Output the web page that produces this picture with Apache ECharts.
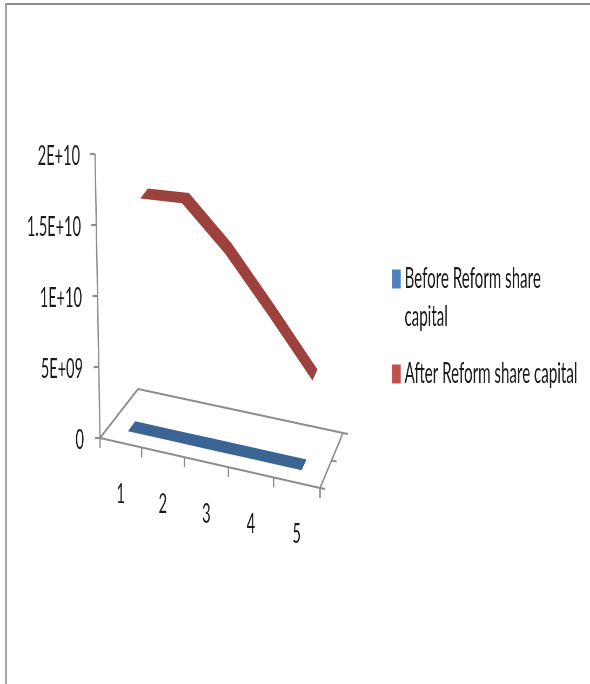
<!DOCTYPE html>
<html>
<head>
<meta charset="utf-8">
<style>
  html, body { margin: 0; padding: 0; background: #fff; overflow: hidden; }
  /* the reference is a squeezed picture, so draw wide and squeeze it the same way */
  #main { width: 1092px; height: 684px; transform: scaleX(0.5403); transform-origin: 0 0; }
</style>
<script src="https://cdn.jsdelivr.net/npm/echarts@6/dist/echarts.min.js"></script>
</head>
<body>
<div id="main"></div>
<script>
var categories = ['1', '2', '3', '4', '5'];
var beforeValues = [1.1e8, 1.1e8, 1.1e8, 1.1e8, 1.1e8];
var afterValues = [1.51e10, 1.54e10, 1.25e10, 8.8e9, 4.9e9];
var yTickLabels = ['0', '5E+09', '1E+10', '1.5E+10', '2E+10'];
var seriesNames = ['Before Reform share capital', 'After Reform share capital'];

var SX = 1092 / 590;
var gridLeft = 100, gridWidth = 220, gridTop = 154, gridHeight = 284;
var font = 'Lato, "Open Sans", sans-serif';
var axisGrey = '#8c8c8c';
var labelColor = '#1a1a1a';

// 3D look: shears a flat grid point (category pos, value) onto the tilted floor, d is the depth 0..1
function project(api, pos, value, d) {
    var base = api.coord([pos, 0]);
    var top = api.coord([pos, value]);
    var u = (base[0] / SX - gridLeft) / gridWidth;
    var x = gridLeft + gridWidth * (0.932 * u + 0.068 * u * u);
    var y = base[1] + 0.2273 * (x - gridLeft);
    x += (38 - 15 * u) * d;
    y += (-49 - 6 * u) * d;
    var h = base[1] - top[1];
    x += h / gridHeight * (x - 210) * 0.045;
    return [x * SX, y - h];
}

function floorItem(params, api) {
    var pos = api.value(0);
    var items = [];
    var a = project(api, pos, 0, 0);
    var line = function (p, q, w) {
        return { type: 'line', shape: { x1: p[0], y1: p[1], x2: q[0], y2: q[1] }, style: { stroke: axisGrey, lineWidth: w || 2.2 } };
    };
    items.push(line(a, [a[0], a[1] + 10], 2.5));
    if (params.dataIndex === 0) {
        var p00 = project(api, 0, 0, 0), p50 = project(api, 5, 0, 0);
        var p01 = project(api, 0, 0, 1), p51 = project(api, 5, 0, 1);
        var pm = project(api, 5, 0, 0.5);
        var vTop = project(api, 0, 2e10, 0);
        items.push(line(p00, p50), line(p00, p01, 2.5), line(p01, p51), line(p50, p51, 2.5));
        items.push(line(p00, [p00[0], p00[1] + 10], 2.5));
        items.push(line(p50, [p50[0], p50[1] + 10], 2.5));
        items.push(line(p50, [p50[0] + 5 * SX, p50[1] + 1]));
        items.push(line(pm, [pm[0] + 5 * SX, pm[1] + 1]));
        items.push(line(p51, [p51[0] + 5 * SX, p51[1] + 1]));
        items.push(line(p00, vTop, 2.5));
        for (var i = 0; i < yTickLabels.length; i++) {
            var t = project(api, 0, i * 5e9, 0);
            items.push(line(t, [t[0] - 5 * SX, t[1]]));
        }
    }
    var lp = project(api, pos - 0.5, 0, 0);
    items.push({
        type: 'text',
        style: {
            x: lp[0], y: lp[1] + 52, text: categories[params.dataIndex],
            fill: labelColor, font: '27px ' + font, align: 'center', verticalAlign: 'middle'
        }
    });
    return { type: 'group', children: items };
}

function ribbonItem(values, d0, d1, color) {
    return function (params, api) {
        if (params.dataIndex !== 0) return null;
        var pts = [];
        var i;
        for (i = 0; i < values.length; i++) pts.push(project(api, i + 0.5, values[i], d0));
        for (i = values.length - 1; i >= 0; i--) pts.push(project(api, i + 0.5, values[i], d1));
        return { type: 'polygon', shape: { points: pts }, style: { fill: color } };
    };
}

function toData(values) {
    return values.map(function (v, i) { return [i + 0.5, v]; });
}

function tickRich(right) {
    return { fontFamily: font, fontSize: 27, color: labelColor, padding: [5, right * SX, 0, 0] };
}

var chart = echarts.init(document.getElementById('main'));
chart.setOption({
    animation: false,
    backgroundColor: '#fff',
    grid: { left: gridLeft * SX, width: gridWidth * SX, top: gridTop, height: gridHeight },
    xAxis: { type: 'value', min: 0, max: 5, show: false },
    yAxis: {
        type: 'value', min: 0, max: 2e10, interval: 5e9,
        axisLine: { show: false }, axisTick: { show: false }, splitLine: { show: false },
        axisLabel: {
            margin: 16 * SX,
            formatter: function (v, i) { return '{l' + i + '|' + yTickLabels[i] + '}'; },
            rich: { l0: tickRich(0), l1: tickRich(1), l2: tickRich(2), l3: tickRich(3), l4: tickRich(4) }
        }
    },
    legend: {
        orient: 'vertical', left: 392 * SX, top: 222, padding: 0, icon: 'rect',
        itemWidth: 8.7 * SX, itemHeight: 19, itemGap: 19,
        textStyle: { fontFamily: font, fontSize: 28, color: labelColor, lineHeight: 38, padding: [0, 0, 0, 2] },
        // the empty first line keeps the swatch level with the first line of text
        formatter: function (name) {
            return name === seriesNames[0] ? '\nBefore Reform share\ncapital' : name;
        },
        data: [
            { name: seriesNames[0], itemStyle: { color: '#4F81BD' } },
            { name: seriesNames[1], itemStyle: { color: '#C0504D' } }
        ]
    },
    graphic: [
        { type: 'rect', shape: { x: 5 * SX, y: 3, width: 1092, height: 2 }, style: { fill: '#8a8a8a' } },
        { type: 'rect', shape: { x: 5 * SX, y: 3, width: 2 * SX, height: 684 }, style: { fill: '#a0a0a0' } }
    ],
    series: [
        { type: 'custom', silent: true, clip: false, data: categories.map(function (c, i) { return [i + 1, 0]; }), encode: { x: 0, y: 1 }, renderItem: floorItem, z: 1 },
        { type: 'custom', name: seriesNames[0], silent: true, clip: false, itemStyle: { color: '#4F81BD' }, data: toData(beforeValues), encode: { x: 0, y: 1 }, renderItem: ribbonItem(beforeValues, 0.2, 0.4, '#3A6494'), z: 2 },
        { type: 'custom', name: seriesNames[1], silent: true, clip: false, itemStyle: { color: '#C0504D' }, data: toData(afterValues), encode: { x: 0, y: 1 }, renderItem: ribbonItem(afterValues, 0.6, 0.8, '#9C413E'), z: 3 }
    ]
});
</script>
</body>
</html>
